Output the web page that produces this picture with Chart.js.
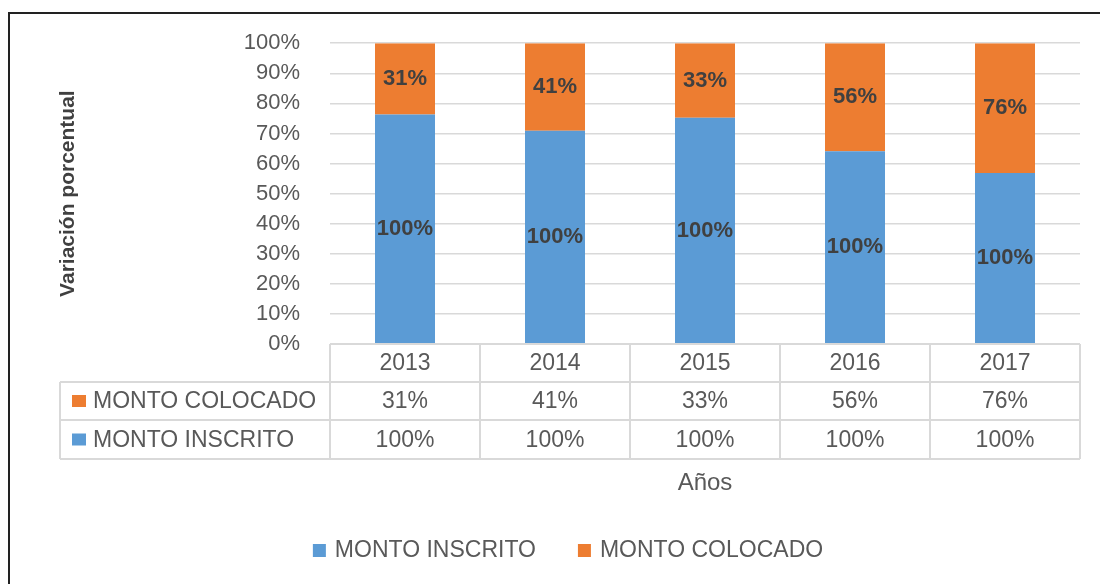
<!DOCTYPE html>
<html>
<head>
<meta charset="utf-8">
<script src="https://cdn.jsdelivr.net/npm/chart.js@4.4.1/dist/chart.umd.min.js"></script>
<style>
  body { margin: 0; background: #fff; }
  #wrap { position: relative; width: 1100px; height: 584px; overflow: hidden; }
  #frame { position: absolute; left: 8px; top: 12px; width: 1200px; height: 700px; border: 2px solid #222; }
  canvas { position: absolute; left: 0; top: 0; }
</style>
</head>
<body>
<div id="wrap">
  <div id="frame"></div>
  <canvas id="barChart" width="1100" height="584"></canvas>
</div>
<script>
const years = ["2013", "2014", "2015", "2016", "2017"];
const montoInscrito = [100, 100, 100, 100, 100];
const montoColocado = [31, 41, 33, 56, 76];

const azul = "#5b9bd5";
const naranja = "#ed7d31";
const gris = "#595959";
const fuente = "'Liberation Sans', Arial, sans-serif";

// barras al 100% (cada año suma 100)
const shareInscrito = montoInscrito.map((v, i) => v / (v + montoColocado[i]) * 100);
const shareColocado = montoColocado.map((v, i) => v / (montoInscrito[i] + v) * 100);

// etiquetas dentro de las barras
const barLabels = {
  id: "barLabels",
  afterDatasetsDraw(chart) {
    const ctx = chart.ctx;
    ctx.save();
    ctx.font = "bold 22px " + fuente;
    ctx.fillStyle = "#404040";
    ctx.textAlign = "center";
    ctx.textBaseline = "middle";
    chart.data.datasets.forEach((ds, d) => {
      chart.getDatasetMeta(d).data.forEach((bar, i) => {
        ctx.fillText(ds.valores[i] + "%", bar.x, (bar.y + bar.base) / 2);
      });
    });
    ctx.restore();
  }
};

// tabla de datos debajo del grafico
const tablaDatos = {
  id: "tablaDatos",
  afterDraw(chart) {
    const ctx = chart.ctx;
    const area = chart.chartArea;
    const xs = chart.scales.x;
    const colW = (area.right - area.left) / years.length;
    const filas = [area.bottom, area.bottom + 38, area.bottom + 76, area.bottom + 115];
    const izq = 60;

    ctx.save();
    ctx.strokeStyle = "#d9d9d9";
    ctx.lineWidth = 2;
    ctx.beginPath();
    ctx.moveTo(area.left, filas[0]); ctx.lineTo(area.right, filas[0]);
    for (let r = 1; r < filas.length; r++) {
      ctx.moveTo(izq, filas[r]); ctx.lineTo(area.right, filas[r]);
    }
    for (let c = 0; c <= years.length; c++) {
      const x = area.left + c * colW;
      ctx.moveTo(x, filas[0]); ctx.lineTo(x, filas[3]);
    }
    ctx.moveTo(izq, filas[1]); ctx.lineTo(izq, filas[3]);
    ctx.stroke();

    ctx.font = "23px " + fuente;
    ctx.fillStyle = gris;
    ctx.textAlign = "center";
    ctx.textBaseline = "middle";
    years.forEach((y, i) => {
      const x = xs.getPixelForValue(i);
      ctx.fillText(y, x, (filas[0] + filas[1]) / 2 + 1);
      ctx.fillText(montoColocado[i] + "%", x, (filas[1] + filas[2]) / 2 + 1);
      ctx.fillText(montoInscrito[i] + "%", x, (filas[2] + filas[3]) / 2 + 1);
    });

    const series = [
      { label: "MONTO COLOCADO", color: naranja, fila: 1 },
      { label: "MONTO INSCRITO", color: azul, fila: 2 }
    ];
    ctx.textAlign = "left";
    series.forEach((s) => {
      const yc = (filas[s.fila] + filas[s.fila + 1]) / 2;
      ctx.fillStyle = s.color;
      ctx.fillRect(72, yc - 6, 14, 12);
      ctx.fillStyle = gris;
      ctx.fillText(s.label, 93, yc + 1);
    });
    ctx.restore();
  }
};

// leyenda inferior
const leyenda = {
  id: "leyenda",
  afterDraw(chart) {
    const ctx = chart.ctx;
    const items = chart.data.datasets.map((ds) => ({ label: ds.label, color: ds.backgroundColor }));
    ctx.save();
    ctx.font = "23px " + fuente;
    ctx.textBaseline = "middle";
    ctx.textAlign = "left";
    const caja = 13, sep = 9, hueco = 42;
    const anchos = items.map((it) => caja + sep + ctx.measureText(it.label).width);
    const total = anchos.reduce((a, b) => a + b, 0) + hueco * (items.length - 1);
    let x = 568 - total / 2;
    const y = 550;
    items.forEach((it, i) => {
      ctx.fillStyle = it.color;
      ctx.fillRect(x, y - 6, caja, caja);
      ctx.fillStyle = gris;
      ctx.fillText(it.label, x + caja + sep, y + 1);
      x += anchos[i] + hueco;
    });
    ctx.restore();
  }
};

const ctx = document.getElementById("barChart").getContext("2d");
new Chart(ctx, {
  type: "bar",
  data: {
    labels: years,
    datasets: [
      {
        label: "MONTO INSCRITO",
        data: shareInscrito,
        valores: montoInscrito,
        backgroundColor: azul,
        categoryPercentage: 1,
        barPercentage: 0.4
      },
      {
        label: "MONTO COLOCADO",
        data: shareColocado,
        valores: montoColocado,
        backgroundColor: naranja,
        categoryPercentage: 1,
        barPercentage: 0.4
      }
    ]
  },
  options: {
    responsive: false,
    animation: false,
    layout: { padding: { top: 43, right: 20, bottom: 0, left: 0 } },
    plugins: {
      legend: { display: false },
      tooltip: { enabled: false }
    },
    scales: {
      x: {
        stacked: true,
        grid: { display: false },
        border: { display: false },
        ticks: { display: false },
        title: {
          display: true,
          text: "Años",
          color: gris,
          font: { family: fuente, size: 24 },
          padding: { top: 0, bottom: 86 }
        },
        afterFit: (s) => { s.height = 240; }
      },
      y: {
        stacked: true,
        min: 0,
        max: 100,
        ticks: {
          stepSize: 10,
          padding: 30,
          color: gris,
          font: { family: fuente, size: 22 },
          callback: (v) => v + "%"
        },
        grid: { color: "#d9d9d9", lineWidth: 1.5, drawTicks: false },
        border: { display: false },
        title: {
          display: true,
          text: "Variación porcentual",
          color: "#404040",
          font: { family: fuente, size: 21, weight: "bold" },
          padding: { top: 56, bottom: 0 }
        },
        afterFit: (s) => { s.width = 330; }
      }
    }
  },
  plugins: [barLabels, tablaDatos, leyenda]
});
</script>
</body>
</html>
